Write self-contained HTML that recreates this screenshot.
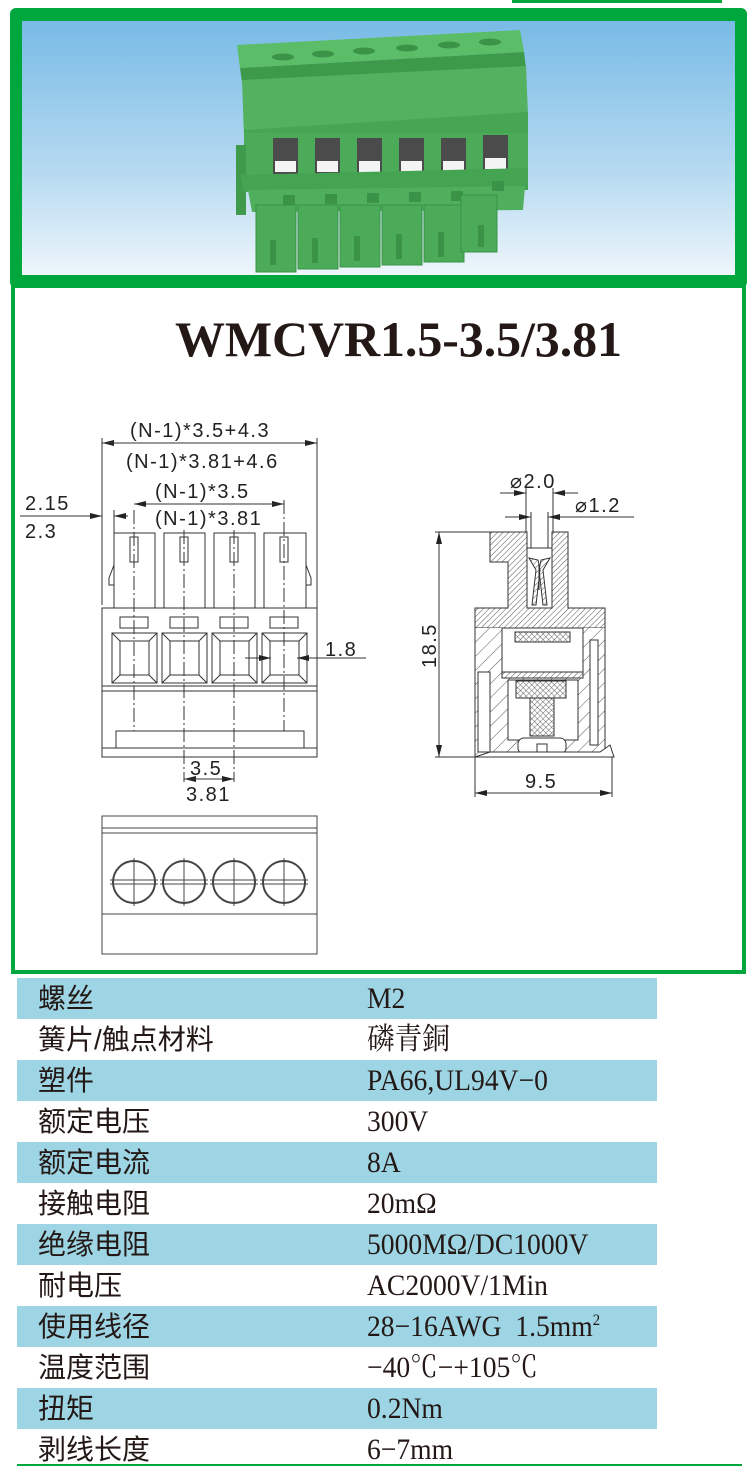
<!DOCTYPE html>
<html><head><meta charset="utf-8"><style>
html,body{margin:0;padding:0;background:#fff;}
body{width:756px;height:1466px;position:relative;overflow:hidden;}
.row{position:absolute;left:17px;width:640px;height:41px;}
.blue{background:#9dd5e5;}
.k{position:absolute;left:38px;font-family:"Liberation Sans","Noto Sans CJK SC",sans-serif;font-size:28px;color:#231815;line-height:41px;}
.v{position:absolute;left:367px;font-family:"Liberation Serif","Noto Serif CJK SC",serif;font-size:30px;color:#231815;line-height:41px;transform:scaleX(0.92);transform-origin:0 0;}
</style></head><body>
<svg width="756" height="1466" style="position:absolute;left:0;top:0" xmlns="http://www.w3.org/2000/svg">
<defs>
<linearGradient id="bg" x1="0" y1="0" x2="0" y2="1">
<stop offset="0" stop-color="#78bbe5"/><stop offset="0.6" stop-color="#b7daf1"/><stop offset="1" stop-color="#eef6fb"/></linearGradient>
<pattern id="h" width="4" height="4" patternUnits="userSpaceOnUse" patternTransform="rotate(45)"><rect width="4" height="4" fill="#fff"/><line x1="0" y1="0" x2="0" y2="4" stroke="#555" stroke-width="1"/></pattern>
<pattern id="x" width="4" height="4" patternUnits="userSpaceOnUse" patternTransform="rotate(45)"><rect width="4" height="4" fill="#fff"/><line x1="0" y1="0" x2="0" y2="4" stroke="#444" stroke-width="0.8"/><line x1="0" y1="0" x2="4" y2="0" stroke="#444" stroke-width="0.8"/></pattern>
<pattern id="hw" width="10" height="10" patternUnits="userSpaceOnUse" patternTransform="rotate(45)"><rect width="10" height="10" fill="#fff"/><line x1="0" y1="0" x2="0" y2="10" stroke="#555" stroke-width="1"/></pattern>
<marker id="a" markerWidth="12" markerHeight="6" refX="12" refY="3" orient="auto" markerUnits="userSpaceOnUse"><path d="M0,0 L12,3 L0,6 Z" fill="#222"/></marker>
</defs>
<rect x="512" y="0" width="210" height="3" fill="#00a73c"/>
<rect x="10" y="8" width="737" height="280" rx="6" fill="#00a73c"/>
<rect x="22" y="21" width="713" height="254" fill="url(#bg)"/>
<rect x="13" y="286" width="731" height="686" fill="none" stroke="#00a73c" stroke-width="4"/>
<g>
<polygon points="237,45 520,30 524,52 240,68" fill="#5cbd69"/>
<polygon points="240,68 524,52 526,68 242,82" fill="#3e9a4b"/>
<polygon points="242,80 526,66 528,115 244,136" fill="#53b160"/>
<polygon points="244,130 528,112 528,134 244,145" fill="#47a654"/>
<rect x="244" y="133" width="284" height="42" fill="#4cab58"/>
<rect x="236" y="145" width="10" height="70" fill="#3f9a4c"/>
<g fill="#4b4b4b">
<rect x="273" y="138" width="25" height="36"/><rect x="315" y="138" width="25" height="36"/><rect x="357" y="138" width="25" height="36"/><rect x="399" y="138" width="25" height="36"/><rect x="441" y="138" width="25" height="36"/><rect x="483" y="135" width="25" height="36"/></g>
<g fill="#f4f4f4">
<rect x="275" y="161" width="21" height="11"/><rect x="317" y="161" width="21" height="11"/><rect x="359" y="161" width="21" height="11"/><rect x="401" y="161" width="21" height="11"/><rect x="443" y="161" width="21" height="11"/><rect x="485" y="158" width="21" height="11"/></g>
<polygon points="240,175 528,168 528,190 244,192" fill="#45a452"/>
<polygon points="248,190 525,186 523,210 252,212" fill="#50af5c"/>
<g fill="#3a9347"><rect x="283" y="195" width="12" height="10"/><rect x="325" y="194" width="12" height="10"/><rect x="367" y="193" width="12" height="10"/><rect x="409" y="192" width="12" height="10"/><rect x="451" y="191" width="12" height="10"/><rect x="492" y="181" width="12" height="10"/></g>
<g fill="#4cab58" stroke="#3a9347" stroke-width="1">
<rect x="256" y="205" width="40" height="67"/><rect x="298" y="205" width="40" height="64"/><rect x="340" y="205" width="40" height="62"/><rect x="382" y="205" width="40" height="60"/><rect x="424" y="205" width="40" height="57"/><rect x="461" y="195" width="36" height="57"/></g>
<g fill="#3a9347"><rect x="270" y="240" width="6" height="25"/><rect x="312" y="238" width="6" height="25"/><rect x="354" y="236" width="6" height="25"/><rect x="396" y="234" width="6" height="25"/><rect x="438" y="232" width="6" height="25"/><rect x="478" y="225" width="6" height="22"/></g>
<g fill="#3a9347"><ellipse cx="283" cy="57" rx="11" ry="3.5"/><ellipse cx="323" cy="54" rx="11" ry="3.5"/><ellipse cx="364" cy="51" rx="11" ry="3.5"/><ellipse cx="407" cy="48" rx="11" ry="3.5"/><ellipse cx="449" cy="45" rx="11" ry="3.5"/><ellipse cx="490" cy="42" rx="11" ry="3.5"/></g>
</g>
<text x="175" y="356" font-family="Liberation Serif, serif" font-weight="bold" font-size="50" fill="#231815" textLength="447">WMCVR1.5-3.5/3.81</text>

<g stroke="#333" stroke-width="1" fill="none">
<rect x="114" y="533" width="41" height="75"/><rect x="164" y="533" width="41" height="75"/><rect x="214" y="533" width="41" height="75"/><rect x="264" y="533" width="42" height="75"/>
<rect x="130" y="537" width="8" height="25"/><rect x="180" y="537" width="8" height="25"/><rect x="230" y="537" width="8" height="25"/><rect x="280" y="537" width="8" height="25"/>
<path d="M114,565 L109,578 L109,585 L114,585 M306,565 L311,578 L311,585 L306,585"/>
<rect x="102" y="608" width="215" height="149"/>
<rect x="120" y="617" width="28" height="11"/><rect x="170" y="617" width="28" height="11"/><rect x="220" y="617" width="28" height="11"/><rect x="270" y="617" width="28" height="11"/>
<g id="sq"><rect x="112" y="633" width="45" height="50"/><rect x="120" y="641" width="29" height="34"/><path d="M112,633 L120,641 M157,633 L149,641 M112,683 L120,675 M157,683 L149,675"/></g>
<use href="#sq" x="50"/><use href="#sq" x="100"/><use href="#sq" x="150"/>
<line x1="102" y1="686" x2="317" y2="686"/><line x1="102" y1="691" x2="317" y2="691"/>
<rect x="116" y="731" width="188" height="17"/>
<line x1="102" y1="748" x2="317" y2="748"/>
<g stroke-dasharray="14,3,2,3"><line x1="134" y1="510" x2="134" y2="731"/><line x1="184" y1="530" x2="184" y2="782"/><line x1="234" y1="530" x2="234" y2="782"/><line x1="284" y1="500" x2="284" y2="731"/></g>
<line x1="102" y1="438" x2="102" y2="605"/><line x1="317" y1="438" x2="317" y2="608"/>
<line x1="317" y1="443" x2="102" y2="443" marker-end="url(#a)"/>
<line x1="102" y1="443" x2="317" y2="443" marker-end="url(#a)"/>
<line x1="134" y1="504" x2="284" y2="504" marker-end="url(#a)"/>
<line x1="284" y1="504" x2="134" y2="504" marker-end="url(#a)"/>
<line x1="114" y1="510" x2="114" y2="533"/>
<line x1="20" y1="516" x2="102" y2="516" marker-end="url(#a)"/>
<line x1="128" y1="516" x2="114" y2="516" marker-end="url(#a)"/>
<line x1="245" y1="658" x2="271" y2="658" marker-end="url(#a)"/>
<line x1="366" y1="658" x2="297" y2="658" marker-end="url(#a)"/>
<line x1="234" y1="779" x2="184" y2="779" marker-end="url(#a)"/><line x1="184" y1="779" x2="234" y2="779" marker-end="url(#a)"/>
</g>
<g font-family="Liberation Sans, sans-serif" font-size="20" fill="#222" letter-spacing="1.5">
<text x="130" y="437">(N-1)*3.5+4.3</text>
<text x="126" y="468">(N-1)*3.81+4.6</text>
<text x="155" y="498">(N-1)*3.5</text>
<text x="155" y="525">(N-1)*3.81</text>
<text x="25" y="510">2.15</text>
<text x="25" y="538">2.3</text>
<text x="325" y="656">1.8</text>
<text x="190" y="775">3.5</text>
<text x="186" y="801">3.81</text>
</g>
<g stroke="#444" stroke-width="1" fill="none">
<rect x="102" y="816" width="215" height="138"/>
<line x1="102" y1="828" x2="317" y2="828"/><line x1="102" y1="833" x2="317" y2="833"/>
<line x1="102" y1="914" x2="317" y2="914"/>
<g id="c"><circle cx="134" cy="882" r="21" stroke-width="2"/><line x1="110" y1="880" x2="158" y2="880"/><line x1="110" y1="884" x2="158" y2="884"/><line x1="134" y1="858" x2="134" y2="906"/></g>
<use href="#c" x="50"/><use href="#c" x="100"/><use href="#c" x="150"/>
</g>
<g stroke="#333" stroke-width="1">
<path d="M490,532 L527,532 L527,548 L552,548 L552,532 L568,532 L568,608 L605,608 L605,628 L475,628 L475,608 L508,608 L508,562 L490,562 Z" fill="url(#h)"/>
<rect x="527" y="548" width="25" height="60" fill="#fff"/>
<path d="M529,558 L536,570 L532,605 L536,605 L540,570 L538,560 Z M550,558 L543,570 L547,605 L543,605 L539,570 L541,560 Z" fill="url(#h)"/>
<line x1="539" y1="565" x2="539" y2="590"/>
<path d="M475,628 L475,757 L605,757 L605,628" fill="url(#hw)"/>
<rect x="502" y="628" width="81" height="50" fill="#fff"/>
<rect x="515" y="632" width="55" height="10" fill="url(#x)"/>
<rect x="502" y="672" width="81" height="6" fill="url(#h)"/>
<rect x="508" y="680" width="70" height="60" fill="#fff"/>
<rect x="516" y="681" width="50" height="17" fill="url(#x)"/>
<rect x="530" y="698" width="24" height="38" fill="url(#x)"/>
<rect x="518" y="738" width="48" height="16" rx="6" fill="#fff"/>
<rect x="537" y="744" width="10" height="10" fill="#fff"/>
<rect x="590" y="640" width="8" height="105" fill="#fff"/>
<rect x="478" y="672" width="12" height="80" fill="#fff"/>
<path d="M490,752 L600,752 L610,745 L614,757 L475,757 Z" fill="#fff"/>
<line x1="526" y1="488" x2="526" y2="532"/><line x1="553" y1="488" x2="553" y2="532"/>
<line x1="500" y1="493" x2="526" y2="493" marker-end="url(#a)"/>
<line x1="578" y1="493" x2="553" y2="493" marker-end="url(#a)"/>
<line x1="531" y1="512" x2="531" y2="548"/><line x1="548" y1="512" x2="548" y2="548"/>
<line x1="505" y1="517" x2="531" y2="517" marker-end="url(#a)"/>
<line x1="634" y1="517" x2="548" y2="517" marker-end="url(#a)"/>
<line x1="435" y1="532" x2="490" y2="532"/><line x1="435" y1="757" x2="475" y2="757"/>
<line x1="439" y1="645" x2="439" y2="532" marker-end="url(#a)"/>
<line x1="439" y1="645" x2="439" y2="757" marker-end="url(#a)"/>
<line x1="475" y1="757" x2="475" y2="797"/><line x1="612" y1="757" x2="612" y2="797"/>
<line x1="542" y1="793" x2="475" y2="793" marker-end="url(#a)"/>
<line x1="542" y1="793" x2="612" y2="793" marker-end="url(#a)"/>
</g>
<g font-family="Liberation Sans, sans-serif" font-size="20" fill="#222" letter-spacing="1.5">
<text x="510" y="488">⌀2.0</text>
<text x="575" y="512">⌀1.2</text>
<text x="525" y="788">9.5</text>
<text transform="translate(436,668) rotate(-90)">18.5</text>
</g>
<line x1="17" y1="1465" x2="742" y2="1465" stroke="#00a73c" stroke-width="2"/>
</svg>
<div class="row blue" style="top:978px"></div>
<div class="row blue" style="top:1060px"></div>
<div class="row blue" style="top:1142px"></div>
<div class="row blue" style="top:1224px"></div>
<div class="row blue" style="top:1306px"></div>
<div class="row blue" style="top:1388px"></div>
<div class="k" style="top:978px">螺丝</div><div class="v" style="top:978px">M2</div>
<div class="k" style="top:1019px">簧片/触点材料</div><div class="v" style="top:1019px">磷青銅</div>
<div class="k" style="top:1060px">塑件</div><div class="v" style="top:1060px">PA66,UL94V−0</div>
<div class="k" style="top:1101px">额定电压</div><div class="v" style="top:1101px">300V</div>
<div class="k" style="top:1142px">额定电流</div><div class="v" style="top:1142px">8A</div>
<div class="k" style="top:1183px">接触电阻</div><div class="v" style="top:1183px">20mΩ</div>
<div class="k" style="top:1224px">绝缘电阻</div><div class="v" style="top:1224px">5000MΩ/DC1000V</div>
<div class="k" style="top:1265px">耐电压</div><div class="v" style="top:1265px">AC2000V/1Min</div>
<div class="k" style="top:1306px">使用线径</div><div class="v" style="top:1306px">28−16AWG&nbsp; 1.5mm<sup style="font-size:16px;line-height:0">2</sup></div>
<div class="k" style="top:1347px">温度范围</div><div class="v" style="top:1347px">−40℃−+105℃</div>
<div class="k" style="top:1388px">扭矩</div><div class="v" style="top:1388px">0.2Nm</div>
<div class="k" style="top:1429px">剥线长度</div><div class="v" style="top:1429px">6−7mm</div>
</body></html>
